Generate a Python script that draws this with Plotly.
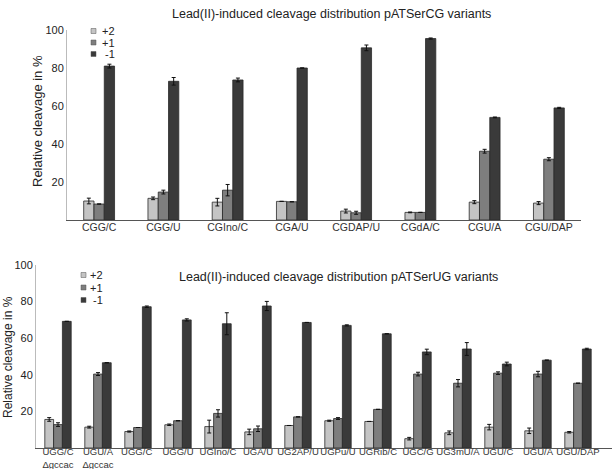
import plotly.graph_objects as go

# ---------- Top chart data (pATSerCG variants) ----------
cg_categories = ["CGG/C", "CGG/U", "CGIno/C", "CGA/U", "CGDAP/U", "CGdA/C", "CGU/A", "CGU/DAP"]
cg_p2 = [10.0, 11.4, 9.4, 9.8, 4.7, 4.0, 9.4, 8.9]
cg_p2_err = [1.5, 0.7, 2.0, 0, 1.0, 0.2, 0.8, 0.8]
cg_p1 = [8.4, 14.7, 15.7, 9.6, 3.8, 4.0, 36.2, 32.0]
cg_p1_err = [0, 1.0, 3.0, 0, 0.8, 0, 1.0, 0.8]
cg_m1 = [81.0, 73.0, 73.7, 80.0, 90.6, 95.5, 54.0, 59.0]
cg_m1_err = [1.0, 2.0, 1.0, 0, 1.5, 0.3, 0.2, 0.3]

# ---------- Bottom chart data (pATSerUG variants) ----------
ug_categories = ["UGG/C<br>Δgccac", "UGU/A<br>Δgccac", "UGG/C ", "UGG/U", "UGIno/C", "UGA/U",
                 "UG2AP/U", "UGPu/U", "UGRib/C", "UGC/G", "UG3mU/A", "UGU/C", "UGU/A", "UGU/DAP"]
ug_p2 = [15.6, 11.4, 9.0, 12.7, 11.7, 8.8, 12.3, 14.9, 14.5, 5.1, 8.3, 11.4, 9.4, 8.6]
ug_p2_err = [1.0, 0.5, 0.3, 0.4, 3.5, 1.5, 0, 0.3, 0, 0.7, 1.0, 1.5, 1.5, 0.4]
ug_p1 = [12.8, 40.4, 11.2, 14.9, 18.9, 10.5, 17.0, 16.1, 21.1, 40.4, 35.4, 40.9, 40.4, 35.4]
ug_p1_err = [1.0, 0.8, 0, 0, 2.0, 1.5, 0, 0.5, 0, 1.0, 2.0, 0.7, 1.5, 0]
ug_m1 = [69.2, 46.6, 77.2, 70.0, 67.9, 77.6, 68.6, 67.0, 62.4, 52.5, 54.1, 45.9, 48.0, 54.1]
ug_m1_err = [0, 0, 0.4, 0.6, 6.0, 2.5, 0, 0.3, 0, 1.5, 3.5, 1.0, 0, 0.4]

series_names = ["+2", "+1", "-1"]
legend_labels = ["+2", "+1", " -1"]
colors = ["#c4c4c4", "#7e7e7e", "#3a3a3a"]
line_col = "#2a2a2a"
FONT = "Liberation Sans, Arial, sans-serif"

W, H = 613, 469
def px_x(p): return p / W
def px_y(p): return 1 - p / H

fig = go.Figure()

def add_group(cats, vals, errs, xa, ya, bw):
    for i, (name, v, e, c) in enumerate(zip(series_names, vals, errs, colors)):
        fig.add_trace(go.Bar(
            x=cats, y=v, name=name, xaxis=xa, yaxis=ya, showlegend=False,
            width=bw, offset=-1.5 * bw + i * bw,
            marker=dict(color=c, line=dict(color=line_col, width=0.8)),
            error_y=dict(type="data", array=e, visible=True, color="#111111",
                         thickness=1, width=2),
        ))

add_group(cg_categories, [cg_p2, cg_p1, cg_m1], [cg_p2_err, cg_p1_err, cg_m1_err], "x", "y", 0.16)
add_group(ug_categories, [ug_p2, ug_p1, ug_m1], [ug_p2_err, ug_p1_err, ug_m1_err], "x2", "y2", 0.22)

shapes = []
annotations = [
    dict(text="Lead(II)-induced cleavage distribution pATSerCG variants",
         x=px_x(331), y=px_y(14), xref="paper", yref="paper", showarrow=False,
         font=dict(size=12.5, color="#222"), xanchor="center", yanchor="middle"),
    dict(text="Lead(II)-induced cleavage distribution pATSerUG variants",
         x=px_x(338), y=px_y(277), xref="paper", yref="paper", showarrow=False,
         font=dict(size=12.5, color="#222"), xanchor="center", yanchor="middle"),
    dict(text="Relative cleavage in %", x=px_x(38), y=px_y(121), xref="paper", yref="paper",
         showarrow=False, textangle=-90, xanchor="center", yanchor="middle",
         font=dict(size=13, color="#222")),
    dict(text="Relative cleavage in %", x=px_x(8), y=px_y(357), xref="paper", yref="paper",
         showarrow=False, textangle=-90, xanchor="center", yanchor="middle",
         font=dict(size=12, color="#222")),
]

# custom legends (paper-positioned keys)
def add_legend(x0, y0, dy, sq, fs, tx):
    for i, (lab, c) in enumerate(zip(legend_labels, colors)):
        yc = y0 + i * dy
        shapes.append(dict(type="rect", xref="paper", yref="paper",
                           x0=px_x(x0), x1=px_x(x0 + sq), y0=px_y(yc - sq / 2), y1=px_y(yc + sq / 2),
                           fillcolor=c, line=dict(color="#555", width=0.5)))
        annotations.append(dict(text=lab, x=px_x(tx), y=px_y(yc), xref="paper", yref="paper",
                                showarrow=False, xanchor="left", yanchor="middle",
                                font=dict(size=fs, color="#222")))

add_legend(91, 31, 11.5, 5, 11, 100)
add_legend(81, 275, 12.5, 5, 11, 88)

axis_common = dict(showgrid=False, zeroline=False, ticks="", automargin=False,
                   tickfont=dict(size=11, color="#222"))

fig.update_layout(
    width=W, height=H,
    margin=dict(l=0, r=0, t=0, b=0),
    paper_bgcolor="white", plot_bgcolor="white",
    font=dict(family=FONT, color="#222"),
    barmode="overlay",
    showlegend=False,
    xaxis=dict(domain=[px_x(67), px_x(581)], anchor="y", showline=True, linecolor="#555",
               linewidth=1, tickfont=dict(size=10.5, color="#333"), ticks="", showgrid=False,
               tickangle=0, automargin=False, range=[-0.5, 7.5], ticklabelstandoff=-3),
    yaxis=dict(domain=[px_y(220), px_y(30)], anchor="x", range=[0, 100],
               tickvals=[20, 40, 60, 80, 100], showline=True, linecolor="#bbb", linewidth=1,
               **axis_common),
    xaxis2=dict(domain=[px_x(36), px_x(612)], anchor="y2", showline=True, linecolor="#555",
                linewidth=1, tickfont=dict(size=9.5, color="#333"), ticks="", showgrid=False,
                tickangle=0, automargin=False, range=[-0.55, 13.85], ticklabelstandoff=-5),
    yaxis2=dict(domain=[px_y(448), px_y(265)], anchor="x2", range=[0, 100],
                tickvals=[20, 40, 60, 80, 100], showline=True, linecolor="#bbb", linewidth=1,
                **axis_common),
    shapes=shapes,
    annotations=annotations,
)
fig.write_html("out.html", config={"displayModeBar": False},
               post_script="document.body.style.margin='0';document.body.style.overflow='hidden';")
